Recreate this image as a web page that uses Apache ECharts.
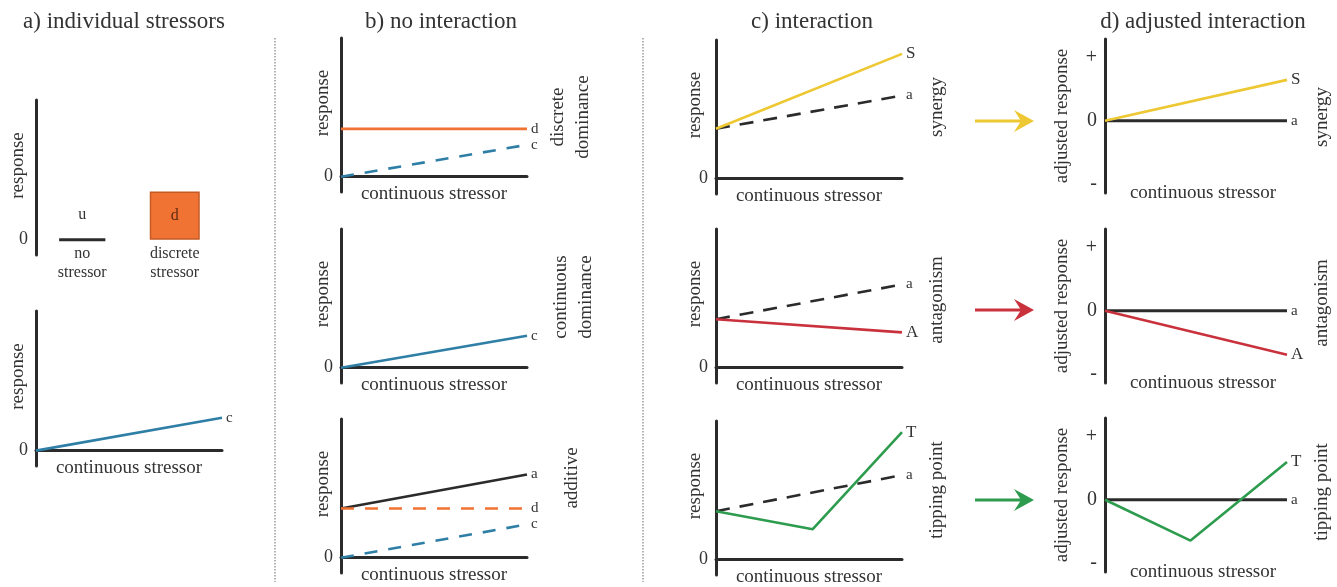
<!DOCTYPE html>
<html>
<head>
<meta charset="utf-8">
<script src="https://cdn.jsdelivr.net/npm/echarts@6/dist/echarts.min.js"></script>
<style>
  html, body { margin: 0; padding: 0; background: #ffffff; }
  #chart { width: 1337px; height: 587px; }
</style>
</head>
<body>
<div id="chart"></div>
<script>
// Position along the continuous stressor (0 = absent, 1 = strongest)
const xEnds = [0, 1];

// a) individual stressors
const aStressorCats = ['no\nstressor', 'discrete\nstressor'];
const aStressorTags = ['u', 'd'];
const aStressorLevels = [0, 0.345];
const aContinuousC = [0, 0.235];

// b) no interaction
const bDiscreteD = [0.345, 0.345];
const bDiscreteC = [0, 0.23];
const bContinuousC = [0, 0.23];
const bAdditiveA = [0.355, 0.6];
const bAdditiveD = [0.355, 0.355];
const bAdditiveC = [0, 0.24];

// c) interaction
const cSynergyA = [0.36, 0.6];
const cSynergyS = [0.36, 0.9];
const cAntagonismA = [0.35, 0.6];
const cAntagonismObs = [0.35, 0.255];
const cTippingA = [0.35, 0.61];
const cTippingX = [0, 0.52, 1];
const cTippingT = [0.35, 0.22, 0.92];

// d) adjusted interaction (observed minus additive expectation)
const dAdditive = [0, 0];
const dSynergyS = [0, 0.65];
const dAntagonismObs = [0, -0.7];
const dTippingX = [0, 0.47, 1];
const dTippingT = [0, -0.65, 0.6];

// axis tick labels
const respTicks = [0];
const respTickLabels = ['0'];
const adjTicks = [-1, 0, 1];
const adjTickLabels = ['-', '0', '+'];

const serif = 'Liberation Serif';
const ink = '#333333';
const axisInk = '#2b2b2b';
const colOrange = '#F07333';
const colBlue = '#2E7EA6';
const colYellow = '#EDC832';
const colRed = '#C9323D';
const colGreen = '#2E9C4E';
const colBlack = '#2b2b2b';

const RESP_MIN = -0.11, RESP_MAX = 1.0;
const ADJ_MIN = -1.15, ADJ_MAX = 1.3;

// plot boxes: [left, top, width, height]
const boxes = [
  [36, 100, 185, 155],   // a top
  [36, 311, 186, 155],   // a bottom
  [341, 38, 186, 154],   // b discrete dominance
  [341, 229, 186, 154],  // b continuous dominance
  [341, 419, 186, 154],  // b additive
  [716, 40, 186, 154],   // c synergy
  [716, 229, 186, 154],  // c antagonism
  [716, 421, 186, 154],  // c tipping point
  [1105, 39, 182, 154],  // d synergy
  [1105, 229, 182, 154], // d antagonism
  [1105, 418, 182, 154]  // d tipping point
];

const grid = boxes.map(b => ({
  left: b[0], top: b[1], width: b[2], height: b[3],
  containLabel: false, outerBoundsMode: 'none'
}));

const axisLineStyle = { color: axisInk, width: 3 };
const nameFont = { fontFamily: serif, fontSize: 19, color: ink };

const xAxis = [];
const yAxis = [];
boxes.forEach((b, i) => {
  const adjusted = i >= 8;
  if (i === 0) {
    xAxis.push({
      gridIndex: 0, type: 'category', data: aStressorCats,
      axisLine: { show: false, onZero: true },
      axisTick: { show: false },
      axisLabel: { fontFamily: serif, fontSize: 16, color: ink, lineHeight: 19, margin: -11 },
      splitLine: { show: false }
    });
  } else {
    xAxis.push({
      gridIndex: i, type: 'value', min: 0, max: 1,
      name: 'continuous stressor', nameLocation: 'middle',
      nameGap: adjusted ? -9 : -7,
      nameTextStyle: Object.assign({}, nameFont, adjusted ? { padding: [0, 0, 0, 14] } : {}),
      nameMoveOverlap: false,
      axisLine: { show: !adjusted, onZero: !adjusted, lineStyle: axisLineStyle },
      axisTick: { show: false },
      axisLabel: { show: false },
      splitLine: { show: false }
    });
  }
  const ticks = adjusted ? adjTicks : respTicks;
  const tickLabels = adjusted ? adjTickLabels : respTickLabels;
  yAxis.push({
    gridIndex: i, type: 'value',
    min: adjusted ? ADJ_MIN : RESP_MIN,
    max: adjusted ? ADJ_MAX : RESP_MAX,
    name: adjusted ? 'adjusted response' : 'response',
    nameLocation: 'middle', nameRotate: 90,
    nameGap: adjusted ? 33 : (i >= 5 ? 11 : 8),
    nameTextStyle: Object.assign({}, nameFont, adjusted ? {} : { padding: [0, 0, 0, 24] }),
    nameMoveOverlap: false,
    axisLine: { show: true, onZero: false, lineStyle: axisLineStyle },
    axisTick: { show: false },
    splitLine: { show: false },
    axisLabel: {
      customValues: ticks,
      formatter: v => {
        const k = ticks.findIndex(t => Math.abs(t - v) < 1e-9);
        return k >= 0 ? tickLabels[k] : '';
      },
      fontFamily: serif, fontSize: adjusted ? 20 : 18, color: ink, margin: 8
    }
  });
});

function pairs(xs, ys) { return xs.map((x, k) => [x, ys[k]]); }

function curve(gi, name, xs, ys, color, dashed) {
  const upper = name === name.toUpperCase();
  return {
    type: 'line', name: name, xAxisIndex: gi, yAxisIndex: gi,
    data: pairs(xs, ys), symbol: 'none', silent: true,
    lineStyle: {
      color: color, width: 2.6,
      type: dashed ? (color === colBlack ? [14, 10] : [13, 11]) : 'solid'
    },
    endLabel: {
      show: true, formatter: '{a}', distance: 4,
      fontFamily: serif, fontSize: upper ? 17 : 15, color: ink
    },
    z: 3
  };
}

const series = [
  // a) discrete stressor as bar, no-stressor baseline as a flat segment
  {
    type: 'custom', xAxisIndex: 0, yAxisIndex: 0, silent: true,
    data: [[0, aStressorLevels[0]]],
    renderItem: (params, api) => {
      const p = api.coord([api.value(0), api.value(1)]);
      const w = api.size([1, 0])[0] * 0.5;
      return {
        type: 'group', children: [
          { type: 'line', shape: { x1: p[0] - w / 2, y1: p[1], x2: p[0] + w / 2, y2: p[1] },
            style: { stroke: axisInk, lineWidth: 3 } },
          { type: 'text', x: p[0], y: p[1] - 25,
            style: { text: aStressorTags[params.dataIndex], fill: ink,
                     font: '16px "Liberation Serif"', align: 'center', verticalAlign: 'middle' } }
        ]
      };
    }
  },
  {
    type: 'bar', xAxisIndex: 0, yAxisIndex: 0, silent: true,
    data: ['-', aStressorLevels[1]], barWidth: 50,
    itemStyle: { color: colOrange, borderColor: '#C45B26', borderWidth: 1.5 },
    label: { show: true, position: 'inside', formatter: p => aStressorTags[p.dataIndex],
             fontFamily: serif, fontSize: 16, color: '#5e2c12' }
  },
  curve(1, 'c', xEnds, aContinuousC, colBlue, false),

  // b) no interaction
  curve(2, 'd', xEnds, bDiscreteD, colOrange, false),
  curve(2, 'c', xEnds, bDiscreteC, colBlue, true),
  curve(3, 'c', xEnds, bContinuousC, colBlue, false),
  curve(4, 'a', xEnds, bAdditiveA, colBlack, false),
  curve(4, 'd', xEnds, bAdditiveD, colOrange, true),
  curve(4, 'c', xEnds, bAdditiveC, colBlue, true),

  // c) interaction
  curve(5, 'a', xEnds, cSynergyA, colBlack, true),
  curve(5, 'S', xEnds, cSynergyS, colYellow, false),
  curve(6, 'a', xEnds, cAntagonismA, colBlack, true),
  curve(6, 'A', xEnds, cAntagonismObs, colRed, false),
  curve(7, 'a', xEnds, cTippingA, colBlack, true),
  curve(7, 'T', cTippingX, cTippingT, colGreen, false),

  // d) adjusted interaction
  curve(8, 'a', xEnds, dAdditive, colBlack, false),
  curve(8, 'S', xEnds, dSynergyS, colYellow, false),
  curve(9, 'a', xEnds, dAdditive, colBlack, false),
  curve(9, 'A', xEnds, dAntagonismObs, colRed, false),
  curve(10, 'a', xEnds, dAdditive, colBlack, false),
  curve(10, 'T', dTippingX, dTippingT, colGreen, false)
];

// the d-panel reference lines are as heavy as the axes
series.forEach(s => {
  if (s.type === 'line' && s.xAxisIndex >= 8 && s.name === 'a') s.lineStyle.width = 3;
});

const panelTitles = [
  { text: 'a) individual stressors', x: 124 },
  { text: 'b) no interaction', x: 441 },
  { text: 'c) interaction', x: 812 },
  { text: 'd) adjusted interaction', x: 1203 }
];

const sideLabels = [
  { text: 'discrete\ndominance', x: 571, y: 117 },
  { text: 'continuous\ndominance', x: 574, y: 297 },
  { text: 'additive', x: 572, y: 478 },
  { text: 'synergy', x: 937, y: 107 },
  { text: 'antagonism', x: 937, y: 300 },
  { text: 'tipping point', x: 937, y: 490 },
  { text: 'synergy', x: 1322, y: 117 },
  { text: 'antagonism', x: 1322, y: 303 },
  { text: 'tipping point', x: 1322, y: 492 }
];

const arrows = [
  { y: 121, color: colYellow },
  { y: 310, color: colRed },
  { y: 500, color: colGreen }
];

const graphic = [];
[275, 643].forEach(x => graphic.push({
  type: 'line', silent: true,
  shape: { x1: x, y1: 38, x2: x, y2: 582 },
  style: { stroke: '#9a9a9a', lineWidth: 1.5, lineDash: [1.5, 1.5] }
}));
sideLabels.forEach(s => graphic.push({
  type: 'text', silent: true, x: s.x, y: s.y, rotation: Math.PI / 2,
  style: { text: s.text, fill: ink, font: '19px "Liberation Serif"',
           align: 'center', verticalAlign: 'middle', lineHeight: 25 }
}));
arrows.forEach(a => graphic.push({
  type: 'group', silent: true, x: 975, y: a.y,
  children: [
    { type: 'line', shape: { x1: 0, y1: 0, x2: 46, y2: 0 },
      style: { stroke: a.color, lineWidth: 3 } },
    { type: 'polygon', shape: { points: [[59, 0], [39, -11], [46, 0], [39, 11]] },
      style: { fill: a.color } }
  ]
}));

const chart = echarts.init(document.getElementById('chart'), null, { renderer: 'canvas' });
chart.setOption({
  backgroundColor: '#ffffff',
  animation: false,
  title: panelTitles.map(t => ({
    text: t.text, left: t.x, top: 10, textAlign: 'center', padding: 0,
    textStyle: { fontFamily: serif, fontSize: 23, fontWeight: 'normal', color: ink }
  })),
  grid: grid,
  xAxis: xAxis,
  yAxis: yAxis,
  series: series,
  graphic: graphic
});
</script>
</body>
</html>
